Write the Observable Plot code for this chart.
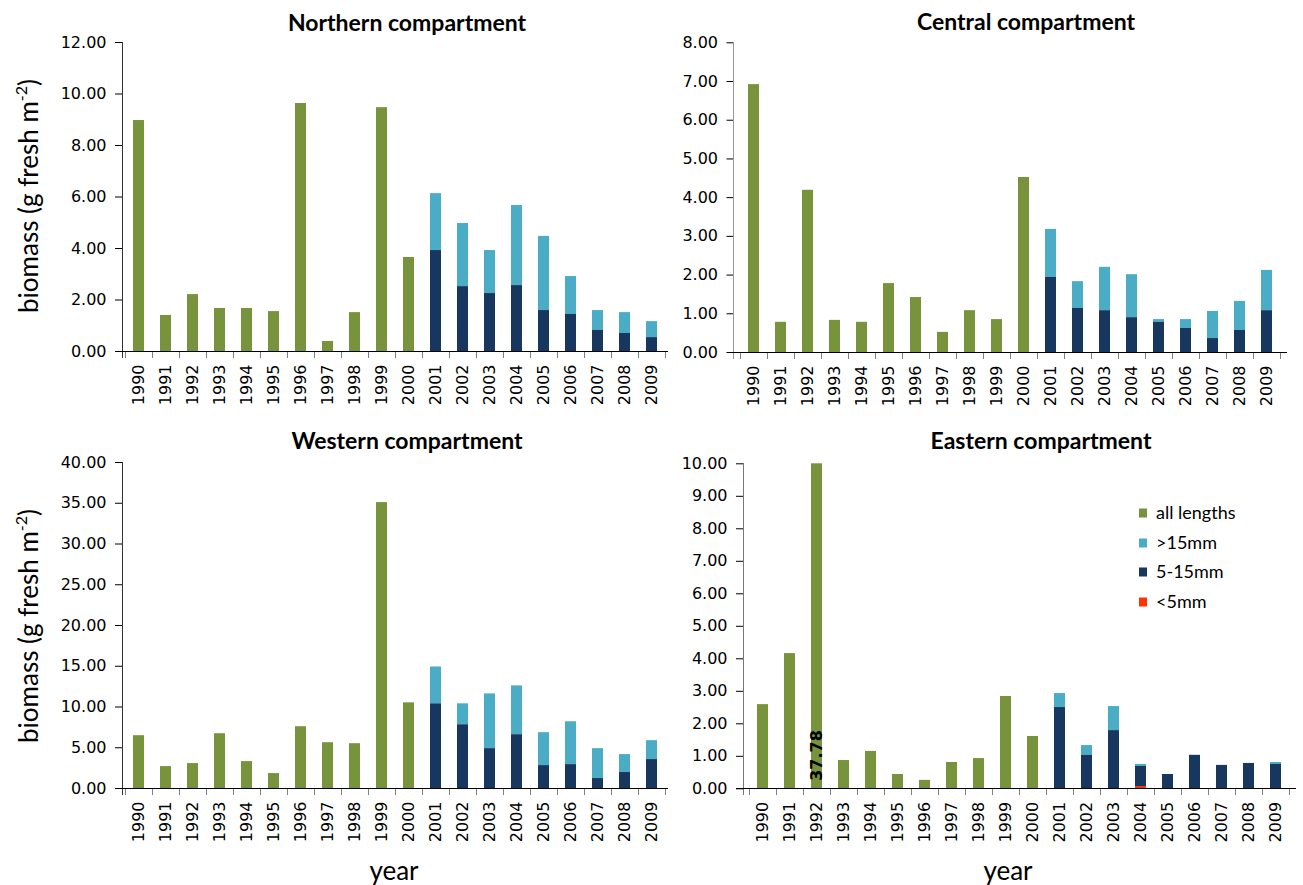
<!DOCTYPE html>
<html><head><meta charset="utf-8">
<script src="https://cdn.jsdelivr.net/npm/d3@7"></script>
<script src="https://cdn.jsdelivr.net/npm/@observablehq/plot@0.6"></script>
<style>
body{margin:0;background:#fff;}
#page{position:relative;width:1303px;height:885px;overflow:hidden;background:#fff;}
.panel{position:absolute;}
.title{position:absolute;font-family:Lato,"Open Sans",sans-serif;font-weight:bold;font-size:23px;line-height:1.1;transform:translate(-50%,-50%);white-space:nowrap;color:#000;}
.ylab{position:absolute;font-family:Lato,"Open Sans",sans-serif;font-size:26px;line-height:1.1;transform:translate(-50%,-50%) rotate(-90deg);white-space:nowrap;color:#000;}
.ylab sup{font-size:16px;vertical-align:11px;line-height:0;}
.xlab{position:absolute;font-family:Lato,"Open Sans",sans-serif;font-size:26px;line-height:1;transform:translate(-50%,-50%);white-space:nowrap;color:#000;}
.leg{position:absolute;font-family:Lato,"Open Sans",sans-serif;font-size:18px;line-height:1.1;color:#000;white-space:nowrap;transform:translateY(-50%);}
.sw{position:absolute;width:8px;height:9px;transform:translateY(-50%);}
</style></head>
<body><div id="page"></div>
<script>
// ---- data ----
const years = [1990,1991,1992,1993,1994,1995,1996,1997,1998,1999,2000,2001,2002,2003,2004,2005,2006,2007,2008,2009];
const seriesNames = ["all lengths", ">15mm", "5-15mm", "<5mm"];
const seriesColors = ["#77933C", "#4BACC6", "#17375E", "#FF3300"];
const stackOrder = ["<5mm", "5-15mm", ">15mm", "all lengths"];
const _ = null;

const northernAll  = [8.97,1.40,2.21,1.67,1.67,1.55,9.63,0.39,1.51,9.47,3.65,_,_,_,_,_,_,_,_,_];
const northernGt15 = [_,_,_,_,_,_,_,_,_,_,_,2.21,2.45,1.67,3.11,2.88,1.47,0.77,0.81,0.62];
const northernMid  = [_,_,_,_,_,_,_,_,_,_,_,3.92,2.52,2.25,2.56,1.59,1.44,0.82,0.70,0.54];
const northernLt5  = [_,_,_,_,_,_,_,_,_,_,_,0,0,0,0,0,0,0,0,0];

const centralAll  = [6.92,0.78,4.19,0.83,0.78,1.78,1.42,0.52,1.08,0.85,4.52,_,_,_,_,_,_,_,_,_];
const centralGt15 = [_,_,_,_,_,_,_,_,_,_,_,1.24,0.69,1.12,1.11,0.07,0.23,0.70,0.75,1.04];
const centralMid  = [_,_,_,_,_,_,_,_,_,_,_,1.94,1.14,1.08,0.90,0.78,0.62,0.36,0.57,1.08];
const centralLt5  = [_,_,_,_,_,_,_,_,_,_,_,0,0,0,0,0,0,0,0,0];

const westernAll  = [6.48,2.69,3.06,6.72,3.30,1.83,7.58,5.62,5.50,35.08,10.51,_,_,_,_,_,_,_,_,_];
const westernGt15 = [_,_,_,_,_,_,_,_,_,_,_,4.52,2.57,6.72,5.99,4.04,5.26,3.67,2.20,2.32];
const westernMid  = [_,_,_,_,_,_,_,_,_,_,_,10.39,7.82,4.89,6.60,2.81,2.93,1.22,1.96,3.55];
const westernLt5  = [_,_,_,_,_,_,_,_,_,_,_,0,0,0,0,0,0,0,0,0];

const easternAll  = [2.59,4.16,37.78,0.87,1.15,0.44,0.26,0.81,0.93,2.84,1.61,_,_,_,_,_,_,_,_,_];
const easternGt15 = [_,_,_,_,_,_,_,_,_,_,_,0.43,0.30,0.74,0.06,0,0,0,0,0.06];
const easternMid  = [_,_,_,_,_,_,_,_,_,_,_,2.50,1.03,1.79,0.62,0.44,1.03,0.72,0.78,0.75];
const easternLt5  = [_,_,_,_,_,_,_,_,_,_,_,0,0,0,0.07,0,0,0,0,0];

const northernTicks = [0,2,4,6,8,10,12];
const centralTicks  = [0,1,2,3,4,5,6,7,8];
const westernTicks  = [0,5,10,15,20,25,30,35,40];
const easternTicks  = [0,1,2,3,4,5,6,7,8,9,10];

const offScaleLabels = [{year: 1992, label: "37.78"}];

const titles = ["Northern compartment", "Central compartment", "Western compartment", "Eastern compartment"];
const yTitle = "biomass (g fresh m<sup>-2</sup>)";
const xTitle = "year";

// ---- build ----
function rows(all, gt15, mid, lt5) {
  const out = [];
  years.forEach((yr, i) => {
    [["all lengths", all], [">15mm", gt15], ["5-15mm", mid], ["<5mm", lt5]].forEach(([s, arr]) => {
      const v = arr[i];
      if (v != null && v > 0) out.push({year: yr, series: s, value: v});
    });
  });
  return out;
}

function axisLines(yAxisColor) {
  return (index, scales, values, dims) => {
    const x = scales.x;
    const NS = "http://www.w3.org/2000/svg";
    const g = document.createElementNS(NS, "g");
    const left = dims.marginLeft, right = dims.width - dims.marginRight;
    const top = dims.marginTop, bottom = dims.height - dims.marginBottom;
    const line = (x1, y1, x2, y2, c) => {
      const l = document.createElementNS(NS, "line");
      l.setAttribute("x1", x1); l.setAttribute("y1", y1);
      l.setAttribute("x2", x2); l.setAttribute("y2", y2);
      l.setAttribute("stroke", c); l.setAttribute("stroke-width", 1);
      l.setAttribute("shape-rendering", "crispEdges");
      g.appendChild(l);
    };
    const step = x.step(), bw = x.bandwidth();
    const bounds = years.map(yr => x(yr) + bw / 2 - step / 2);
    bounds.push(x(years[years.length - 1]) + bw / 2 + step / 2);
    bounds.forEach(b => line(b, bottom, b, bottom + 7, "#808080"));
    line(left, top, left, bottom + 7, yAxisColor);
    line(left - 7, bottom, right, bottom, "#000");
    return g;
  };
}

function panel(data, yMax, yTicks, w, h, mL, mR, mT, mB, yAxisColor, extra = []) {
  return Plot.plot({
    width: w, height: h,
    marginLeft: mL, marginRight: mR, marginTop: mT, marginBottom: mB,
    x: {type: "band", domain: years, paddingInner: 0.58, paddingOuter: 0.29},
    y: {domain: [0, yMax], clamp: true},
    color: {domain: seriesNames, range: seriesColors},
    style: {fontFamily: "DejaVu Sans", fontSize: "16px", color: "#000", background: "transparent", overflow: "visible"},
    marks: [
      Plot.barY(data, {x: "year", y: "value", fill: "series", order: stackOrder}),
      Plot.axisY(yTicks, {tickFormat: d3.format(".2f"), tickSize: 7, tickPadding: 9, label: null, stroke: "#000"}),
      Plot.axisX({tickRotate: -90, tickSize: 0, tickPadding: 13, tickFormat: d => String(d), label: null}),
      axisLines(yAxisColor),
      ...extra
    ]
  });
}

const page = document.getElementById("page");
function place(el, left, top) {
  const d = document.createElement("div");
  d.className = "panel"; d.style.left = left + "px"; d.style.top = top + "px";
  d.appendChild(el); page.appendChild(d);
}

place(panel(rows(northernAll, northernGt15, northernMid, northernLt5), 12, northernTicks, 680, 420, 122, 12.5, 42, 69, "#333"), 0, 0);
place(panel(rows(centralAll, centralGt15, centralMid, centralLt5), 8, centralTicks, 653, 420, 83.5, 16, 42.3, 68, "#999"), 650, 0);
place(panel(rows(westernAll, westernGt15, westernMid, westernLt5), 40, westernTicks, 680, 440, 122, 12, 42, 72, "#333"), 0, 420);
place(panel(rows(easternAll, easternGt15, easternMid, easternLt5), 10, easternTicks, 653, 440, 93, 7, 43.3, 71.7, "#777", [
  Plot.text(offScaleLabels, {x: "year", y: 0, text: "label", rotate: -90, textAnchor: "start", dy: -8, fontWeight: "bold", fontSize: 16, fill: "#000"})
]), 650, 420);

function addText(cls, html, x, y) {
  const d = document.createElement("div");
  d.className = cls; d.innerHTML = html;
  d.style.left = x + "px"; d.style.top = y + "px";
  page.appendChild(d);
}
addText("title", titles[0], 407, 23);
addText("title", titles[1], 1026, 22);
addText("title", titles[2], 407, 441);
addText("title", titles[3], 1041, 441);
addText("ylab", yTitle, 28, 196);
addText("ylab", yTitle, 28, 626);
addText("xlab", xTitle, 394, 870);
addText("xlab", xTitle, 1008, 870);

// legend
const legendY = [513, 543, 572, 602];
seriesNames.forEach((s, i) => {
  const sw = document.createElement("div");
  sw.className = "sw"; sw.style.left = "1139px"; sw.style.top = legendY[i] + "px";
  sw.style.background = seriesColors[i];
  page.appendChild(sw);
  addText("leg", s.replace("<", "&lt;").replace(">", "&gt;"), 1156, legendY[i]);
});
</script>
</body></html>
